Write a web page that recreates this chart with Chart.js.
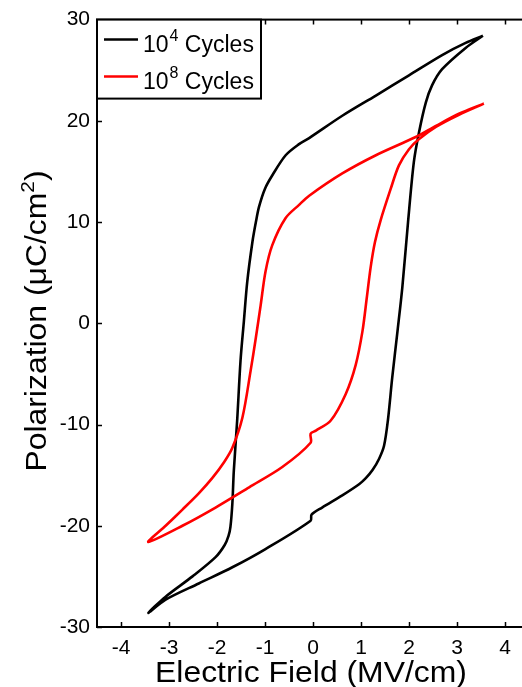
<!DOCTYPE html>
<html>
<head>
<meta charset="utf-8">
<script src="https://cdn.jsdelivr.net/npm/chart.js@4"></script>
<style>
  html, body { margin: 0; padding: 0; background: #fff; overflow: hidden; }
  #wrap { width: 540px; height: 687px; }
</style>
</head>
<body>
<div id="wrap"><canvas id="pe-loop" width="540" height="687"></canvas></div>
<script>
// P-E hysteresis loops, field in MV/cm, polarization in uC/cm^2
// 10^4 cycles: down sweep from +Emax then up sweep from -Emax
const field4 = [3.54, 3.18, 2.69, 2.0, 1.31, 0.61, -0.08, -0.29, -0.57, -0.85, -1.0, -1.125, -1.19, -1.26, -1.37, -1.44, -1.51, -1.58, -1.65, -1.68, -1.72, -1.76, -1.84, -2.03, -2.51, -3.07, -3.43,
                -3.07, -2.38, -1.68, -0.99, -0.05, -0.03, 0.19, 0.61, 0.96, 1.10, 1.24, 1.375, 1.48, 1.56, 1.65, 1.76, 1.86, 1.98, 2.10, 2.21, 2.35, 2.48, 2.69, 3.18, 3.54]
const pol4 = [28.4, 27.7, 26.5, 24.5, 22.5, 20.5, 18.3, 17.7, 16.6, 14.6, 13.3, 11.5, 10.0, 8.1, 4.1, 0.2, -3.7, -9.6, -14.6, -17.8, -20.1, -21.0, -21.9, -23.1, -25.0, -27.0, -28.6,
              -27.3, -25.7, -24.1, -22.3, -19.5, -18.9, -18.2, -17.0, -15.9, -15.3, -14.5, -13.4, -12.1, -9.6, -5.4, -0.8, 3.5, 10.0, 15.9, 18.9, 21.8, 23.5, 25.1, 27.2, 28.4]

// 10^8 cycles
const field8 = [3.56, 3.04, 2.56, 2.14, 1.31, 0.61, -0.08, -0.29, -0.57, -0.85, -0.99, -1.09, -1.19, -1.30, -1.47, -1.68, -1.85, -2.10, -2.38, -2.72, -3.07, -3.43,
                -2.72, -2.03, -1.33, -0.64, -0.05, -0.05, 0.06, 0.37, 0.68, 0.89, 1.03, 1.12, 1.20, 1.29, 1.41, 1.62, 1.79, 2.0, 2.21, 2.56, 3.04, 3.56]
const pol8 = [21.7, 20.7, 19.5, 18.4, 16.6, 14.8, 12.6, 11.7, 10.4, 7.7, 5.1, 1.8, -1.4, -4.7, -9.3, -12.3, -13.7, -15.3, -16.8, -18.4, -20.0, -21.6,
              -20.0, -18.2, -16.2, -14.2, -11.8, -10.9, -10.6, -9.6, -7.0, -4.1, -0.8, 2.5, 5.5, 8.0, 10.2, 13.3, 15.6, 17.2, 18.2, 19.4, 20.6, 21.7]

const xTicks = [-4, -3, -2, -1, 0, 1, 2, 3, 4]
const yTicks = [-30, -20, -10, 0, 10, 20, 30]

const FONT = "'Liberation Sans', Arial, sans-serif"

function toPoints(xs, ys) {
  return xs.map((x, i) => ({ x: x, y: ys[i] }))
}

// box, inward ticks, axis titles and legend
const decorations = {
  id: 'decorations',
  afterDraw(chart) {
    const ctx = chart.ctx
    const area = chart.chartArea
    const xs = chart.scales.x
    const ys = chart.scales.y

    ctx.save()
    ctx.strokeStyle = '#000'
    ctx.lineWidth = 2
    ctx.strokeRect(area.left, area.top, area.right - area.left, area.bottom - area.top)

    ctx.lineWidth = 1.5
    ctx.beginPath()
    xTicks.forEach(v => {
      const px = Math.round(xs.getPixelForValue(v)) + 0.5
      ctx.moveTo(px, area.bottom); ctx.lineTo(px, area.bottom - 5)
      ctx.moveTo(px, area.top); ctx.lineTo(px, area.top + 5)
    })
    yTicks.forEach(v => {
      const py = Math.round(ys.getPixelForValue(v)) + 0.5
      ctx.moveTo(area.left, py); ctx.lineTo(area.left + 5, py)
      ctx.moveTo(area.right, py); ctx.lineTo(area.right - 5, py)
    })
    ctx.stroke()

    ctx.fillStyle = '#000'
    ctx.textBaseline = 'alphabetic'

    // x axis title
    ctx.save()
    ctx.translate((area.left + area.right) / 2 - 2, 682)
    ctx.scale(1.1, 1)
    ctx.font = '29px ' + FONT
    ctx.textAlign = 'center'
    ctx.fillText('Electric Field (MV/cm)', 0, 0)
    ctx.restore()

    // y axis title with superscript
    ctx.save()
    ctx.translate(46, 321)
    ctx.rotate(-Math.PI / 2)
    ctx.scale(1.1, 1)
    const main = 'Polarization (\u03BCC/cm'
    ctx.font = '29px ' + FONT
    const wMain = ctx.measureText(main).width
    ctx.font = '19px ' + FONT
    const wSup = ctx.measureText('2').width
    ctx.font = '29px ' + FONT
    const wEnd = ctx.measureText(')').width
    let x0 = -(wMain + wSup + wEnd) / 2
    ctx.textAlign = 'left'
    ctx.fillText(main, x0, 0)
    ctx.font = '19px ' + FONT
    ctx.fillText('2', x0 + wMain, -12)
    ctx.font = '29px ' + FONT
    ctx.fillText(')', x0 + wMain + wSup, 0)
    ctx.restore()

    // legend
    const lx = area.left, ly = area.top
    ctx.fillStyle = '#fff'
    ctx.fillRect(lx, ly, 164, 79)
    ctx.strokeStyle = '#000'
    ctx.lineWidth = 2
    ctx.strokeRect(lx, ly, 164, 79)
    const entries = [
      { color: '#000', sup: '4', y: ly + 20 },
      { color: '#ff0000', sup: '8', y: ly + 57 }
    ]
    entries.forEach(e => {
      ctx.strokeStyle = e.color
      ctx.lineWidth = 2.5
      ctx.beginPath()
      ctx.moveTo(lx + 7, e.y); ctx.lineTo(lx + 41, e.y)
      ctx.stroke()
      ctx.fillStyle = '#000'
      ctx.textAlign = 'left'
      ctx.font = '23px ' + FONT
      let tx = lx + 46
      ctx.fillText('10', tx, e.y + 12)
      tx += ctx.measureText('10').width + 1
      ctx.font = '16px ' + FONT
      ctx.fillText(e.sup, tx, e.y + 1)
      tx += ctx.measureText(e.sup).width
      ctx.font = '23px ' + FONT
      ctx.fillText(' Cycles', tx, e.y + 12)
    })
    ctx.restore()
  }
}

new Chart(document.getElementById('pe-loop').getContext('2d'), {
  type: 'scatter',
  data: {
    datasets: [
      {
        label: '10^4 Cycles',
        data: toPoints(field4, pol4),
        showLine: true,
        borderColor: '#000',
        borderWidth: 2.6,
        pointRadius: 0,
        tension: 0.3,
        order: 1
      },
      {
        label: '10^8 Cycles',
        data: toPoints(field8, pol8),
        showLine: true,
        borderColor: '#ff0000',
        borderWidth: 2.6,
        pointRadius: 0,
        tension: 0.3,
        order: 0
      }
    ]
  },
  options: {
    responsive: false,
    animation: false,
    layout: { padding: { top: 17, right: 11, left: 0, bottom: 0 } },
    plugins: {
      legend: { display: false },
      tooltip: { enabled: false }
    },
    scales: {
      x: {
        type: 'linear',
        min: -4.5,
        max: 4.5,
        afterBuildTicks: s => { s.ticks = xTicks.map(v => ({ value: v })) },
        afterFit: s => { s.height = 60 },
        grid: { display: false, drawTicks: false },
        border: { display: false },
        ticks: { color: '#000', padding: 9, font: { family: FONT, size: 21 } }
      },
      y: {
        type: 'linear',
        min: -30,
        max: 30,
        afterBuildTicks: s => { s.ticks = yTicks.map(v => ({ value: v })) },
        afterFit: s => { s.width = 97 },
        grid: { display: false, drawTicks: false },
        border: { display: false },
        ticks: { color: '#000', padding: 7, font: { family: FONT, size: 21 } }
      }
    }
  },
  plugins: [decorations]
})
</script>
</body>
</html>
